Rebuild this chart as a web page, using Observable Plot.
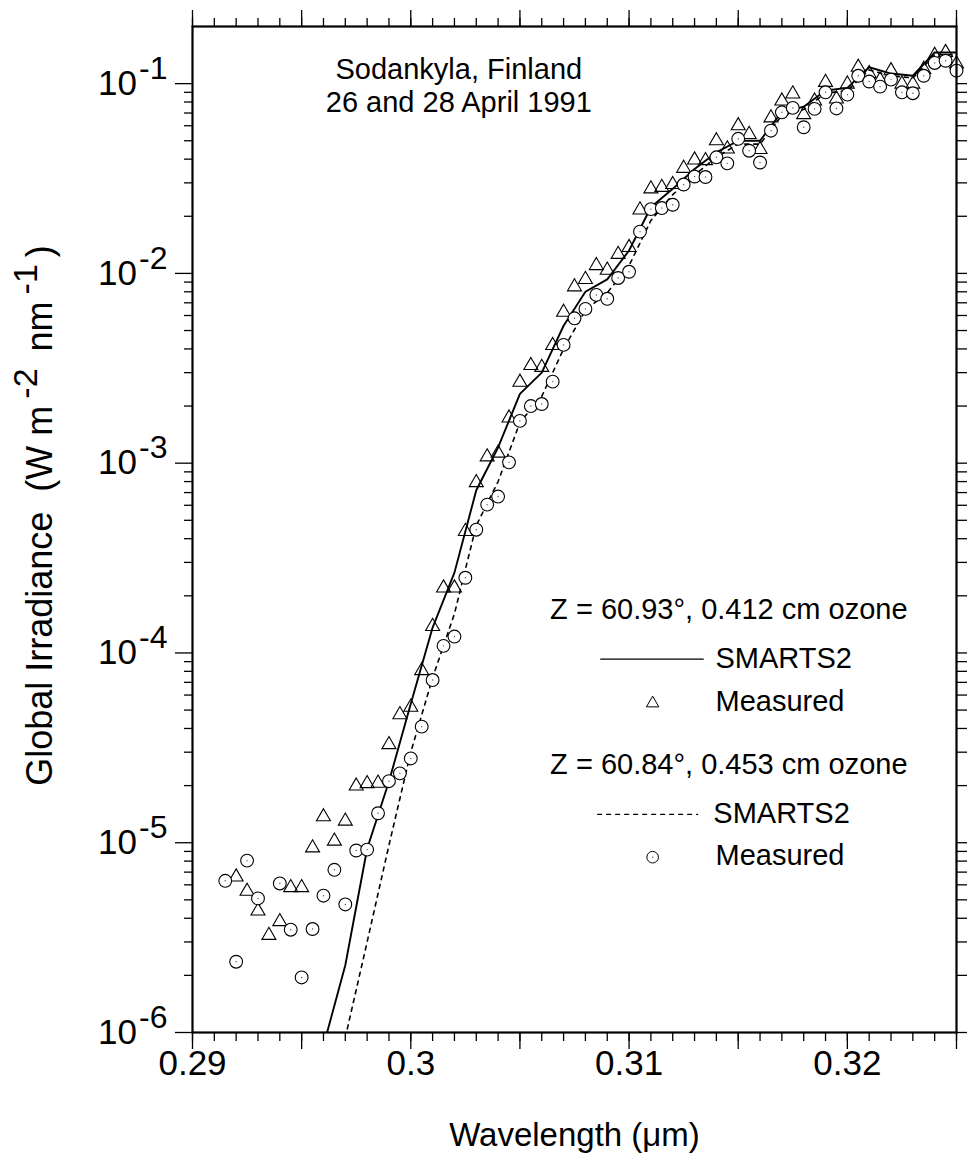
<!DOCTYPE html>
<html>
<head>
<meta charset="utf-8">
<script src="https://cdn.jsdelivr.net/npm/d3@7"></script>
<script src="https://cdn.jsdelivr.net/npm/@observablehq/plot@0.6"></script>
<style>
  html, body { margin: 0; padding: 0; background: #fff; }
  #chart svg { display: block; }
</style>
</head>
<body>
<div id="chart"></div>
<script>
// ---- Measured, Z = 60.93°, 0.412 cm ozone (triangles) ----
const measuredAWl = [0.292,0.2925,0.293,0.2935,0.294,0.2945,0.295,0.2955,0.296,0.2965,0.297,0.2975,0.298,0.2985,0.299,0.2995,0.300,0.3005,0.301,0.3015,0.302,0.3025,0.303,0.3035,0.304,0.3045,0.305,0.3055,0.306,0.3065,0.307,0.3075,0.308,0.3085,0.309,0.3095,0.310,0.3105,0.311,0.3115,0.312,0.3125,0.313,0.3135,0.314,0.3145,0.315,0.3155,0.316,0.3165,0.317,0.3175,0.318,0.3185,0.319,0.3195,0.320,0.3205,0.321,0.3215,0.322,0.3225,0.323,0.3235,0.324,0.3245,0.325];
const measuredA = [6.6e-6,5.55e-6,4.37e-6,3.25e-6,3.84e-6,5.8e-6,5.8e-6,9.4e-6,1.37e-5,1.02e-5,1.30e-5,1.99e-5,2.05e-5,2.06e-5,3.29e-5,4.73e-5,5.18e-5,8.07e-5,1.38e-4,2.20e-4,2.20e-4,4.37e-4,7.9e-4,1.08e-3,1.13e-3,1.73e-3,2.67e-3,3.27e-3,3.2e-3,4.17e-3,6.24e-3,8.5e-3,9.3e-3,1.10e-2,1.04e-2,1.26e-2,1.37e-2,2.16e-2,2.79e-2,2.84e-2,2.94e-2,3.58e-2,3.96e-2,3.93e-2,5.0e-2,4.53e-2,6.0e-2,5.4e-2,4.5e-2,6.6e-2,8.1e-2,8.83e-2,6.87e-2,8.1e-2,0.1016,8.3e-2,9.95e-2,0.122,0.113,0.1045,0.117,9.95e-2,9.95e-2,0.119,0.141,0.146,0.127];

// ---- Measured, Z = 60.84°, 0.453 cm ozone (circles) ----
const measuredBWl = [0.2915,0.292,0.2925,0.293,0.294,0.2945,0.295,0.2955,0.296,0.2965,0.297,0.2975,0.298,0.2985,0.299,0.2995,0.300,0.3005,0.301,0.3015,0.302,0.3025,0.303,0.3035,0.304,0.3045,0.305,0.3055,0.306,0.3065,0.307,0.3075,0.308,0.3085,0.309,0.3095,0.310,0.3105,0.311,0.3115,0.312,0.3125,0.313,0.3135,0.314,0.3145,0.315,0.3155,0.316,0.3165,0.317,0.3175,0.318,0.3185,0.319,0.3195,0.320,0.3205,0.321,0.3215,0.322,0.3225,0.323,0.3235,0.324,0.3245,0.325];
const measuredB = [6.3e-6,2.36e-6,8.05e-6,5.09e-6,6.1e-6,3.48e-6,1.95e-6,3.51e-6,5.26e-6,7.2e-6,4.73e-6,9.1e-6,9.2e-6,1.43e-5,2.11e-5,2.32e-5,2.78e-5,4.09e-5,7.2e-5,1.09e-4,1.22e-4,2.49e-4,4.46e-4,6.05e-4,6.67e-4,1.01e-3,1.67e-3,2.0e-3,2.05e-3,2.69e-3,4.2e-3,5.8e-3,6.5e-3,7.7e-3,7.35e-3,9.46e-3,1.02e-2,1.66e-2,2.18e-2,2.21e-2,2.30e-2,2.94e-2,3.24e-2,3.22e-2,4.09e-2,3.80e-2,5.12e-2,4.43e-2,3.84e-2,5.65e-2,7.06e-2,7.45e-2,5.89e-2,7.36e-2,9.0e-2,7.4e-2,8.75e-2,0.110,0.1026,9.64e-2,0.105,9.0e-2,8.9e-2,0.110,0.1285,0.132,0.117];

// ---- SMARTS2 model, Z = 60.93° (solid) ----
const smartsAWl = [0.296,0.297,0.298,0.299,0.300,0.301,0.302,0.303,0.304,0.305,0.306,0.307,0.308,0.309,0.310,0.311,0.312,0.313,0.314,0.315,0.316,0.317,0.318,0.319,0.320,0.321,0.322,0.323,0.324,0.325];
const smartsA = [8.5e-7,2.26e-6,9.3e-6,2.1e-5,5.4e-5,1.36e-4,2.65e-4,7.2e-4,1.21e-3,2.32e-3,3.0e-3,5.3e-3,8.0e-3,9.3e-3,1.32e-2,2.23e-2,2.79e-2,3.55e-2,4.34e-2,5.0e-2,5.0e-2,7.1e-2,7.55e-2,9.2e-2,9.5e-2,0.122,0.113,0.110,0.146,0.146];

// ---- SMARTS2 model, Z = 60.84° (dashed) ----
const smartsBWl = [0.297,0.298,0.299,0.300,0.301,0.302,0.303,0.304,0.305,0.306,0.307,0.308,0.309,0.310,0.311,0.312,0.313,0.314,0.315,0.316,0.317,0.318,0.319,0.320,0.321,0.322,0.323,0.324,0.325];
const smartsB = [9.4e-7,3.0e-6,9.7e-6,3.0e-5,7.4e-5,1.61e-4,4.7e-4,8.0e-4,1.64e-3,2.25e-3,4.0e-3,6.4e-3,7.9e-3,1.1e-2,1.9e-2,2.6e-2,3.3e-2,4.1e-2,4.8e-2,4.8e-2,6.8e-2,7.3e-2,8.9e-2,9.2e-2,0.118,0.110,0.107,0.142,0.142];

// ---- ticks ----
const xLabelTicks = [0.29, 0.30, 0.31, 0.32];
const xMajorTicks = [0.29, 0.295, 0.30, 0.305, 0.31, 0.315, 0.32, 0.325];
const xMinorTicks = [0.29,0.291,0.292,0.293,0.294,0.295,0.296,0.297,0.298,0.299,0.300,0.301,0.302,0.303,0.304,0.305,0.306,0.307,0.308,0.309,0.310,0.311,0.312,0.313,0.314,0.315,0.316,0.317,0.318,0.319,0.320,0.321,0.322,0.323,0.324,0.325];
const yMajorTicks = [1e-6, 1e-5, 1e-4, 1e-3, 1e-2, 1e-1];
const yMinorTicks = [2e-6,3e-6,4e-6,5e-6,6e-6,7e-6,8e-6,9e-6,2e-5,3e-5,4e-5,5e-5,6e-5,7e-5,8e-5,9e-5,2e-4,3e-4,4e-4,5e-4,6e-4,7e-4,8e-4,9e-4,2e-3,3e-3,4e-3,5e-3,6e-3,7e-3,8e-3,9e-3,2e-2,3e-2,4e-2,5e-2,6e-2,7e-2,8e-2,9e-2];

// ---- texts ----
const titleLines = ["Sodankyla, Finland", "26 and 28 April 1991"];
const legendHeaders = ["Z = 60.93°, 0.412 cm ozone", "Z = 60.84°, 0.453 cm ozone"];
const legendModel = "SMARTS2";
const legendMeasured = "Measured";
const xTitle = "Wavelength (μm)";
const yTitle = "Global Irradiance  (W m^{-2} nm^{-1})";

const FONT = "'Liberation Sans', Arial, Helvetica, sans-serif";
const none = () => "";

const svg = Plot.plot({
  width: 967,
  height: 1173,
  marginLeft: 192,
  marginRight: 11,
  marginTop: 26,
  marginBottom: 141,
  style: {fontFamily: FONT, fontSize: "35px", background: "white", color: "black", overflow: "visible"},
  x: {type: "linear", domain: [0.29, 0.325]},
  y: {type: "log", domain: [1e-6, 0.2]},
  marks: [
    // axes: bottom
    Plot.axisX({anchor: "bottom", ticks: xMinorTicks, tickSize: 9, tickFormat: none, label: null, strokeWidth: 1.3}),
    Plot.axisX({anchor: "bottom", ticks: xMajorTicks, tickSize: 17, tickFormat: none, label: null, strokeWidth: 1.3}),
    Plot.axisX({anchor: "bottom", ticks: xLabelTicks, tickSize: 0, tickPadding: 18, fontSize: 35,
                tickFormat: d => String(+d.toFixed(3)), label: null}),
    // top
    Plot.axisX({anchor: "top", ticks: xMinorTicks, tickSize: 9, tickFormat: none, label: null, strokeWidth: 1.3}),
    Plot.axisX({anchor: "top", ticks: xMajorTicks, tickSize: 17, tickFormat: none, label: null, strokeWidth: 1.3}),
    // left
    Plot.axisY({anchor: "left", ticks: yMinorTicks, tickSize: 8, tickFormat: none, label: null, strokeWidth: 1.3}),
    Plot.axisY({anchor: "left", ticks: yMajorTicks, tickSize: 17, tickPadding: 8, fontSize: 35,
                tickFormat: d => `10^{${Math.round(Math.log10(d))}}`, label: null, strokeWidth: 1.3}),
    // right
    Plot.axisY({anchor: "right", ticks: yMinorTicks, tickSize: 10, tickFormat: none, label: null, strokeWidth: 1.3}),
    Plot.axisY({anchor: "right", ticks: yMajorTicks, tickSize: 17, tickFormat: none, label: null, strokeWidth: 1.3}),

    // axis titles
    Plot.text([xTitle], {frameAnchor: "bottom", dy: 113, lineAnchor: "bottom", fontSize: 33}),
    Plot.text([yTitle], {frameAnchor: "left", rotate: -90, dx: -141, dy: -14, lineAnchor: "bottom", textAnchor: "middle", fontSize: 36}),

    // model curves
    Plot.line(smartsB, {x: smartsBWl, y: smartsB, stroke: "black", strokeWidth: 1.6, strokeDasharray: "4,5", clip: true}),
    Plot.line(smartsA, {x: smartsAWl, y: smartsA, stroke: "black", strokeWidth: 1.9, clip: true}),

    // measured points
    Plot.dot(measuredA, {x: measuredAWl, y: measuredA, symbol: "triangle", r: 5.2, stroke: "black", strokeWidth: 1.1, fill: "none"}),
    Plot.dot(measuredB, {x: measuredBWl, y: measuredB, symbol: "circle", r: 6.4, stroke: "black", strokeWidth: 1.1, fill: "white"}),
    Plot.dot(measuredB, {x: measuredBWl, y: measuredB, r: 0.7, fill: "#555", stroke: null}),

    // in-plot title
    Plot.text([titleLines[0]], {x: [0.3022], y: [0.106], textAnchor: "middle", lineAnchor: "bottom", fontSize: 29}),
    Plot.text([titleLines[1]], {x: [0.3022], y: [0.0713], textAnchor: "middle", lineAnchor: "bottom", fontSize: 29}),

    // legend block 1
    Plot.text([legendHeaders[0]], {x: [0.31457], y: [1.517e-4], textAnchor: "middle", lineAnchor: "bottom", fontSize: 29}),
    Plot.line([0, 1], {x: [0.3087, 0.3134], y: [9.27e-5, 9.27e-5], stroke: "black", strokeWidth: 1.2}),
    Plot.text([legendModel], {x: [0.31396], y: [8.38e-5], textAnchor: "start", lineAnchor: "bottom", fontSize: 29}),
    Plot.dot([0], {x: [0.31108], y: [5.43e-5], symbol: "triangle", r: 4.6, stroke: "black", strokeWidth: 1, fill: "none"}),
    Plot.text([legendMeasured], {x: [0.31396], y: [4.93e-5], textAnchor: "start", lineAnchor: "bottom", fontSize: 29}),

    // legend block 2
    Plot.text([legendHeaders[1]], {x: [0.31457], y: [2.31e-5], textAnchor: "middle", lineAnchor: "bottom", fontSize: 29}),
    Plot.line([0, 1], {x: [0.30856, 0.31314], y: [1.41e-5, 1.41e-5], stroke: "black", strokeWidth: 1.2, strokeDasharray: "4,5"}),
    Plot.text([legendModel], {x: [0.31386], y: [1.27e-5], textAnchor: "start", lineAnchor: "bottom", fontSize: 29}),
    Plot.dot([0], {x: [0.31108], y: [8.39e-6], symbol: "circle", r: 5.8, stroke: "black", strokeWidth: 1, fill: "white"}),
    Plot.dot([0], {x: [0.31108], y: [8.39e-6], r: 0.7, fill: "#555", stroke: null}),
    Plot.text([legendMeasured], {x: [0.31396], y: [7.59e-6], textAnchor: "start", lineAnchor: "bottom", fontSize: 29}),

    Plot.frame({stroke: "black", strokeWidth: 2.2})
  ]
});

// superscript rendering of "^{...}" segments
function setSuperscripts(el, supSize, shift, gap) {
  const parts = el.textContent.split(/\^\{([^}]*)\}/);
  el.textContent = "";
  el.style.whiteSpace = "pre";
  let raised = false;
  parts.forEach((p, i) => {
    const ts = document.createElementNS("http://www.w3.org/2000/svg", "tspan");
    if (i % 2) {
      ts.setAttribute("dy", -shift);
      ts.setAttribute("font-size", supSize);
      if (gap) ts.setAttribute("dx", gap);
      raised = true;
    } else if (raised) {
      ts.setAttribute("dy", shift);
      if (gap) ts.setAttribute("dx", gap);
      raised = false;
    }
    ts.textContent = p;
    el.appendChild(ts);
  });
}
svg.querySelectorAll("text").forEach(t => {
  const s = t.textContent;
  if (/^10\^\{/.test(s)) setSuperscripts(t, 32, 16, 2);
  else if (s.startsWith("Global")) setSuperscripts(t, 34, 15, 7);
});

document.getElementById("chart").appendChild(svg);
</script>
</body>
</html>
